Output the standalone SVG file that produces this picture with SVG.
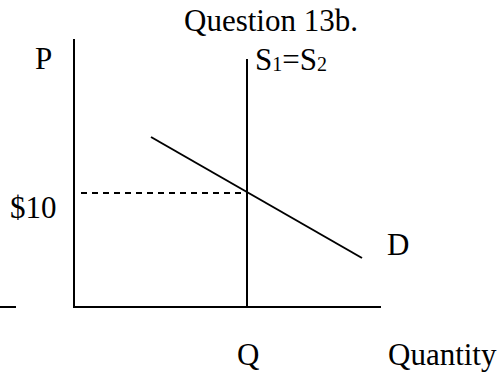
<svg xmlns="http://www.w3.org/2000/svg" width="500" height="376" viewBox="0 0 500 376">
<style>
.t{font-family:"Liberation Serif","Times New Roman",serif;font-size:31px;fill:#000}
.sub{font-size:20px}
.ln{stroke:#000;stroke-width:2;fill:none}
.dash{stroke:#000;stroke-width:2;stroke-dasharray:6 5;fill:none}
</style>
<rect width="500" height="376" fill="#fff"/>
<g id="title"><text class="t" x="184" y="31">Question 13b.</text></g>
<g id="axes">
<line class="ln" x1="74" y1="39" x2="74" y2="308"/>
<line class="ln" x1="73" y1="307" x2="381" y2="307"/>
<line class="ln" x1="0" y1="307" x2="16" y2="307"/>
<text class="t" x="35" y="69">P</text>
<text class="t" x="388" y="365">Quantity</text>
</g>
<g id="supply">
<line class="ln" x1="247" y1="59" x2="247" y2="307"/>
<text class="t" x="255" y="70">S<tspan class="sub" dy="1">1</tspan><tspan dy="-1">=S</tspan><tspan class="sub" dy="1">2</tspan></text>
</g>
<g id="demand">
<line class="ln" x1="151" y1="137" x2="362" y2="258"/>
<text class="t" x="387" y="255">D</text>
</g>
<g id="connectors">
<line class="dash" x1="81" y1="193" x2="247" y2="193"/>
</g>
<g id="labels">
<text class="t" x="10" y="218">$10</text>
<text class="t" x="237" y="365">Q</text>
</g>
</svg>
